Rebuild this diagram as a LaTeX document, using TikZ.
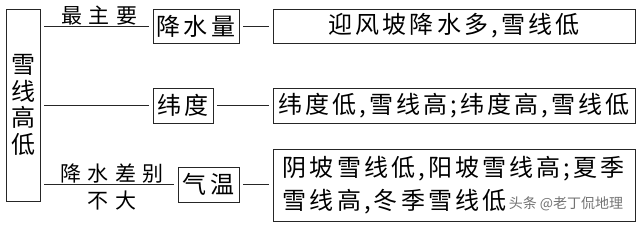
\documentclass[tikz,border=0pt]{standalone}
\usepackage{fontspec}
\newfontfamily\cjk[LetterSpace=13]{Noto Sans CJK SC}
\newfontfamily\cjklab[LetterSpace=30]{Noto Sans CJK SC}
\newfontfamily\cjkwm{Noto Sans CJK SC}
\begin{document}
\begin{tikzpicture}[x=1pt,y=1pt,
  box/.style={draw=black!85, line width=0.8pt, inner sep=0pt, font=\cjk\fontsize{24}{26.5}\selectfont},
  conn/.style={draw=black!85, line width=0.8pt, shorten <=4pt, shorten >=4pt},
  lab/.style={font=\cjklab\fontsize{21}{23}\selectfont, inner sep=0pt}]
\useasboundingbox (0,0) rectangle (640,226);
\node[box, minimum width=34, minimum height=192, align=center] (lb) at (23,121) {雪\\线\\高\\低};
\node[box, minimum width=86, minimum height=34] (n1) at (196,200) {降水量};
\node[box, minimum width=60, minimum height=35] (n2) at (183,120.5) {纬度};
\node[box, minimum width=61, minimum height=35] (n3) at (208.5,41.5) {气温};
\node[box, minimum width=362, minimum height=34] (r1) at (454,200) {迎风坡降水多,雪线低};
\node[box, minimum width=362, minimum height=35] (r2) at (454,120.5) {纬度低,雪线高;纬度高,雪线低};
\node[box, minimum width=362, minimum height=72] (r3) at (454,41) {};
\node[anchor=west, align=left, inner sep=0pt, font=\cjk\fontsize{24}{33}\selectfont] (t3) at ([xshift=10pt]r3.west) {阴坡雪线低,阳坡雪线高;夏季\\雪线高,冬季雪线低};
\draw[conn] (lb.east |- n1.west) -- (n1.west) node[lab, midway, yshift=10pt, xshift=3pt] (l1) {最主要};
\draw[conn] (lb.east |- n2.west) -- (n2.west);
\draw[conn] (lb.east |- n3.west) -- (n3.west)
  node[lab, midway, yshift=11pt, xshift=3pt] (l3a) {降水差别}
  node[lab, midway, yshift=-16pt, xshift=3pt] (l3b) {不大};
\draw[conn] (n1.east) -- (r1.west |- n1.east);
\draw[conn] (n2.east) -- (r2.west |- n2.east);
\draw[conn] (n3.east) -- (r3.west |- n3.east);
\node[font=\cjkwm\fontsize{14}{16}\selectfont, text=black!55, inner sep=0pt] (wm) at (566,22) {头条 @老丁侃地理};
\end{tikzpicture}
\end{document}
